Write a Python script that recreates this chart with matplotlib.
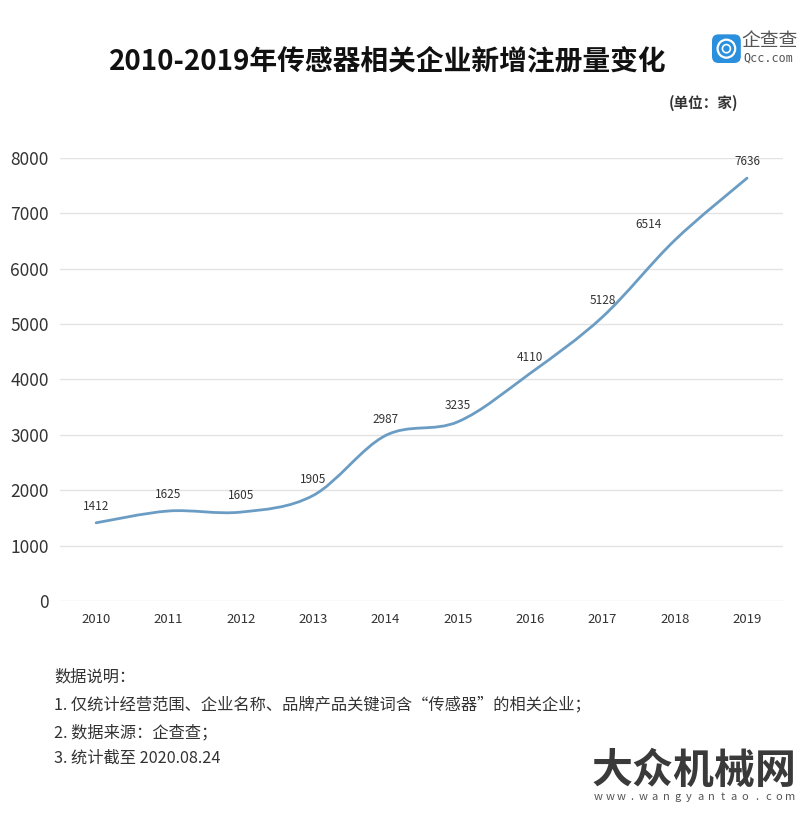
import numpy as np
import matplotlib
matplotlib.use("Agg")
import matplotlib.pyplot as plt
from matplotlib.path import Path
from matplotlib.patches import PathPatch, FancyBboxPatch, Circle

plt.rcParams['font.family'] = ['Noto Sans CJK SC', 'DejaVu Sans']

years = ["2010", "2011", "2012", "2013", "2014", "2015", "2016", "2017", "2018", "2019"]
counts = [1412, 1625, 1605, 1905, 2987, 3235, 4110, 5128, 6514, 7636]
yticks = [0, 1000, 2000, 3000, 4000, 5000, 6000, 7000, 8000]

title = "2010-2019年传感器相关企业新增注册量变化"
unit = "(单位：家)"
notes = ["数据说明：",
         "1. 仅统计经营范围、企业名称、品牌产品关键词含“传感器”的相关企业；",
         "2. 数据来源：企查查；",
         "3. 统计截至 2020.08.24"]
watermark_url = "www.wangyantao.com"

line_color = "#6b9dc4"
text_color = "#333333"


def smooth_path(x, y):
    # catmull-rom style cubic bezier through the points
    pts = np.column_stack([x, y]).astype(float)
    n = len(pts)
    verts = [pts[0]]
    codes = [Path.MOVETO]
    for i in range(n - 1):
        p0 = pts[max(i - 1, 0)]
        p1 = pts[i]
        p2 = pts[i + 1]
        p3 = pts[min(i + 2, n - 1)]
        c1 = p1 + (p2 - p0) / 6.0
        c2 = p2 - (p3 - p1) / 6.0
        verts += [c1, c2, p2]
        codes += [Path.CURVE4] * 3
    return Path(verts, codes)


fig = plt.figure(figsize=(8.0, 8.18), dpi=100)
ax = fig.add_axes([0.075, 0.2653, 0.904, 0.5416])

xs = np.arange(len(years))
ax.add_patch(PathPatch(smooth_path(xs, counts), facecolor="none",
                       edgecolor=line_color, lw=2.0, capstyle="round"))
for x, v in zip(xs, counts):
    dx = -19 if x == 8 else 0  # 2018 label sits left of the point
    ax.annotate(str(v), (x, v), xytext=(dx, 7), textcoords="offset points",
                ha="center", va="bottom", fontsize=8.5, color=text_color)

ax.set_xlim(-0.5, len(years) - 0.5)
ax.set_ylim(0, 8000)
ax.set_xticks(xs)
ax.set_xticklabels(years, fontsize=9.5, color=text_color)
ax.set_yticks(yticks)
ax.set_yticklabels([str(t) for t in yticks], fontsize=12.5, color=text_color)
ax.tick_params(axis="both", length=0)
ax.tick_params(axis="x", pad=9)
ax.tick_params(axis="y", pad=8)
ax.grid(axis="y", color="#e3e3e3", lw=1)
ax.set_axisbelow(True)
for s in ax.spines.values():
    s.set_visible(False)

fig.text(0.485, 0.925, title, ha="center", va="center", fontsize=20,
         fontweight="bold", color="#111111")
fig.text(0.923, 0.874, unit, ha="right", va="center", fontsize=10.5,
         fontweight="bold", color=text_color)

# logo
fig.patches.append(FancyBboxPatch((0.892, 0.925), 0.032, 0.031,
                                  boxstyle="round,pad=0.002,rounding_size=0.008",
                                  transform=fig.transFigure, facecolor="#2a8fdc",
                                  edgecolor="none"))
fig.patches.append(Circle((0.908, 0.9405), 0.011, transform=fig.transFigure,
                          facecolor="none", edgecolor="white", lw=1.6))
fig.patches.append(Circle((0.908, 0.9405), 0.005, transform=fig.transFigure,
                          facecolor="none", edgecolor="white", lw=1.2))
fig.text(0.927, 0.950, "企查查", ha="left", va="center", fontsize=13.5,
         color="#555555")
fig.text(0.929, 0.929, "Qcc.com", ha="left", va="center", fontsize=8.5,
         color="#555555", family="DejaVu Sans Mono")

note_y = [0.172, 0.138, 0.104, 0.073]
for t, yy in zip(notes, note_y):
    fig.text(0.068, yy, t, ha="left", va="center", fontsize=11.7,
             color=text_color)

# watermark
fig.text(0.868, 0.058, "大众机械网", ha="center", va="center", fontsize=29.5,
         fontweight="bold", color="#3a3a3a")
for i, ch in zip(np.linspace(0.748, 0.988, len(watermark_url)), watermark_url):
    fig.text(i, 0.026, ch, ha="center", va="center", fontsize=8,
             color="#555555")

fig.savefig("out.png", dpi=100, facecolor="white")
